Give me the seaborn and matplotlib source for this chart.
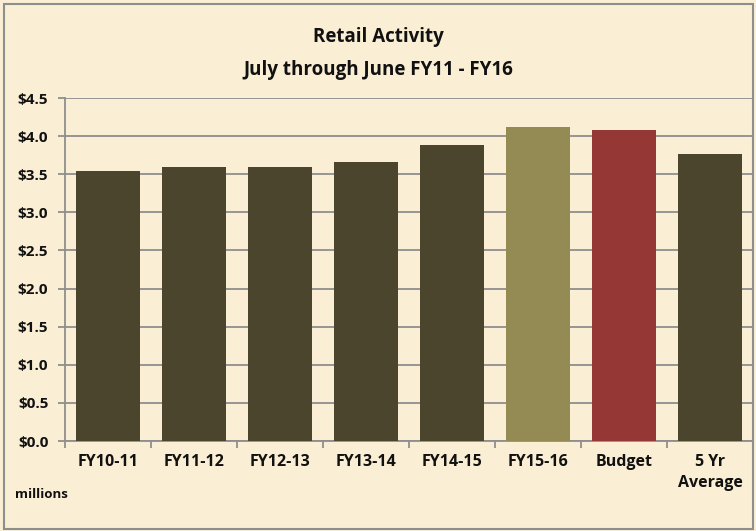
import matplotlib
matplotlib.use("Agg")
import matplotlib.pyplot as plt
import seaborn as sns
import pandas as pd
import numpy as np
from matplotlib.ticker import FixedLocator, FuncFormatter
from matplotlib.patches import Rectangle

categories = ["FY10-11", "FY11-12", "FY12-13", "FY13-14", "FY14-15", "FY15-16", "Budget", "5 Yr\nAverage"]
values = [3.545, 3.589, 3.589, 3.656, 3.884, 4.116, 4.076, 3.759]
bar_colors = ["#4A452C", "#4A452C", "#4A452C", "#4A452C", "#4A452C", "#948A54", "#953735", "#4A452C"]
yticks = [0.0, 0.5, 1.0, 1.5, 2.0, 2.5, 3.0, 3.5, 4.0, 4.5]
title1 = "Retail Activity"
title2 = "July through June FY11 - FY16"
unit_label = "millions"

sns.set_theme(style="white")
plt.rcParams['font.family'] = ['Open Sans', 'DejaVu Sans']

bg = "#FAEED4"
grid_c = "#8E8E8E"

df = pd.DataFrame({"cat": categories, "val": values})
fig = plt.figure(figsize=(7.56, 5.31), dpi=100, facecolor=bg)
ax = fig.add_axes([65/756, 1-441/531, (753-65)/756, (441-98)/531])
ax.set_facecolor(bg)

sns.barplot(data=df, x="cat", y="val", hue="cat", palette=dict(zip(categories, bar_colors)),
            width=0.74, legend=False, ax=ax, saturation=1, zorder=3)
for p in ax.patches:
    p.set_edgecolor("none")

ax.set_ylim(0, 4.5)
ax.set_xlim(-0.5, len(categories) - 0.5)
ax.set_yticks(yticks)
ax.yaxis.set_major_formatter(FuncFormatter(lambda v, _: f"${v:.1f}"))
ax.grid(axis="y", color=grid_c, linewidth=1.3, zorder=0)
ax.set_axisbelow(True)
ax.set_xlabel("")
ax.set_ylabel("")

for s in ["top", "right"]:
    ax.spines[s].set_visible(False)
for s in ["left", "bottom"]:
    ax.spines[s].set_color(grid_c)
    ax.spines[s].set_linewidth(1.3)

ax.tick_params(axis="y", which="major", length=5, width=1.3, color=grid_c, direction="out",
               left=True, pad=7, labelsize=11)
ax.tick_params(axis="x", which="major", length=0, pad=9, labelsize=11.5)
ax.xaxis.set_minor_locator(FixedLocator(np.arange(-0.5, len(categories), 1.0)))
ax.tick_params(axis="x", which="minor", length=5, width=1.3, color=grid_c, direction="out", bottom=True)
for lab in ax.get_xticklabels() + ax.get_yticklabels():
    lab.set_fontweight("bold")
    lab.set_color("#111111")
for lab in ax.get_xticklabels():
    lab.set_linespacing(1.45)

fig.text(378/756, 1-37/531, title1, ha="center", va="center", fontsize=13.5, fontweight="bold", color="#111111")
fig.text(378/756, 1-70/531, title2, ha="center", va="center", fontsize=13.5, fontweight="bold", color="#111111")
fig.text(41/756, 1-494/531, unit_label, ha="center", va="center", fontsize=9.5, fontweight="bold", color="#111111")

fig.patches.append(Rectangle((4/756, 2/531), 749/756, 525/531, transform=fig.transFigure,
                             fill=False, edgecolor=grid_c, linewidth=1.5))

fig.savefig("out.png", dpi=100, facecolor=bg)
